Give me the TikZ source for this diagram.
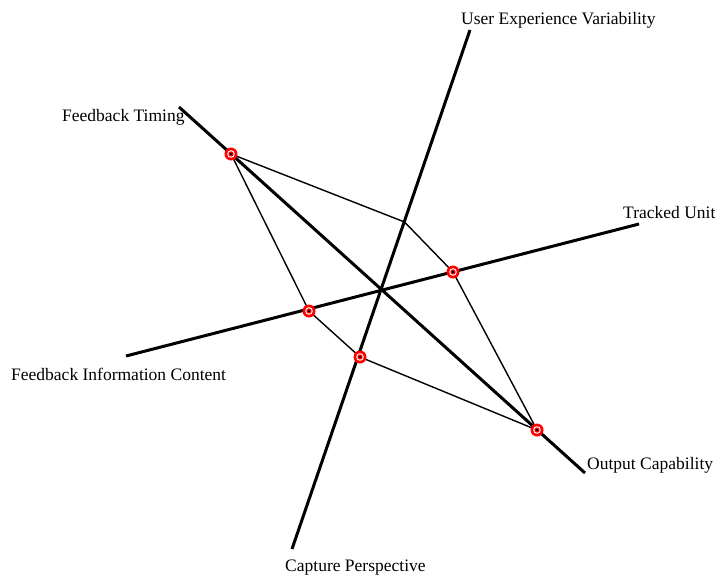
\documentclass[tikz,border=0pt]{standalone}
\usepackage{fontspec}
\setmainfont{Liberation Serif}
\begin{document}
\begin{tikzpicture}[x=1pt,y=-1pt,
  axisline/.style={line width=3pt,black},
  edge/.style={line width=1.4pt,black},
  lbl/.style={anchor=west,inner sep=0pt,font=\fontsize{17.5}{20}\selectfont},
  ]
\useasboundingbox (0,0) rectangle (717,578);
% axis ends
\coordinate (ux1) at (470,30);   \coordinate (ux2) at (292,549);
\coordinate (ft1) at (179,107);  \coordinate (ft2) at (585,473);
\coordinate (tu1) at (639,224);  \coordinate (tu2) at (126,356);
% profile points
\coordinate (pft) at (231,154);
\coordinate (pux) at (404.5,222);
\coordinate (ptu) at (453,272);
\coordinate (poc) at (537,430);
\coordinate (pcp) at (360,357);
\coordinate (pfi) at (309,311);
% axes
\draw[axisline] (ux1) -- (ux2);
\draw[axisline] (ft1) -- (ft2);
\draw[axisline] (tu1) -- (tu2);
% profile polygon
\draw[edge,line join=round] (pft) -- (pux) -- (ptu) -- (poc) -- (pcp) -- (pfi) -- cycle;
% markers
\foreach \p in {pft,ptu,poc,pcp,pfi}{
  \fill[red] (\p) circle (6.5);
  \fill[white] (\p) circle (3.8);
  \fill[red] (\p) circle (2.7);
  \fill[black] (\p) circle (1.3);
}
% labels
\node[lbl] (lux) at (461,20) {User Experience Variability};
\node[lbl] (lft) at (62,117) {Feedback Timing};
\node[lbl] (ltu) at (623,213) {Tracked Unit};
\node[lbl] (lfi) at (11,374) {Feedback Information Content};
\node[lbl] (loc) at (587,465) {Output Capability};
\node[lbl] (lcp) at (285,568) {Capture Perspective};
\end{tikzpicture}
\end{document}
